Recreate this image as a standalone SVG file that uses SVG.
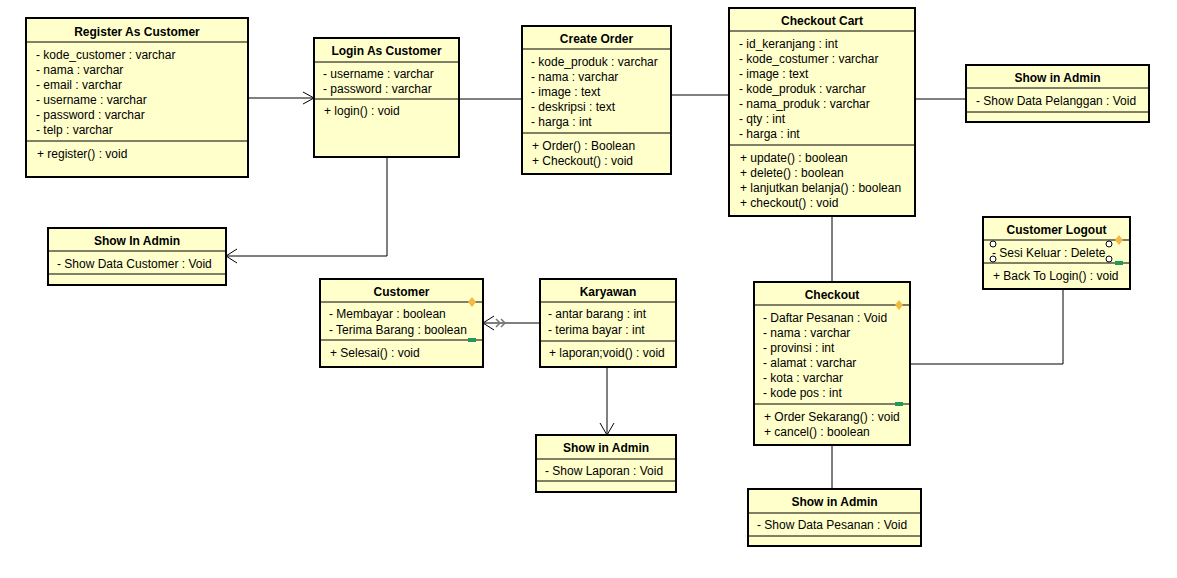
<svg xmlns="http://www.w3.org/2000/svg" width="1177" height="578" viewBox="0 0 1177 578">
<style>
.box{fill:#FFFFCC;stroke:#000;stroke-width:2}
.sep{stroke:#000;stroke-width:1}
.t{font-family:"Liberation Sans",Arial,sans-serif;font-size:12px;fill:#000}
.b{font-weight:bold;text-anchor:middle}
.ln{fill:none;stroke:#000;stroke-width:1}
.dia{fill:#F5B942}
.grn{fill:#1F9A5A}
.cir{fill:#fff;stroke:#000;stroke-width:1}
</style>
<rect width="1177" height="578" fill="#fff"/>
<g id="connectors">
<line class="ln" x1="248" y1="98" x2="314" y2="98"/>
<polyline class="ln" points="303,92 314,98 303,104"/>
<line class="ln" x1="459" y1="99" x2="522" y2="99"/>
<line class="ln" x1="671" y1="95" x2="729" y2="95"/>
<line class="ln" x1="915" y1="99" x2="966" y2="99"/>
<polyline class="ln" points="387,157 387,256 226,256"/>
<polyline class="ln" points="237,249 226,256 237,263"/>
<line class="ln" x1="540" y1="323" x2="483" y2="323"/>
<polyline class="ln" points="494,316 483,323 494,330"/>
<polyline fill="none" stroke="#777" stroke-width="1.5" points="496,319 500,323 496,327"/>
<polyline fill="none" stroke="#777" stroke-width="1.5" points="501,319 505,323 501,327"/>
<line class="ln" x1="607" y1="367" x2="607" y2="435" stroke="#444"/>
<polyline class="ln" points="600,423 607,435 614,423"/>
<line class="ln" x1="832" y1="216" x2="832" y2="282"/>
<line class="ln" x1="832" y1="445" x2="832" y2="489"/>
<polyline class="ln" points="910,364 1063,364 1063,289"/>
</g>
<g id="register">
<rect class="box" x="26" y="18" width="222" height="159"/>
<line class="sep" x1="26" y1="42" x2="248" y2="42"/>
<line class="sep" x1="26" y1="141" x2="248" y2="141"/>
<text class="t b" x="137" y="36">Register As Customer</text>
<text class="t" x="36" y="59">- kode_customer : varchar</text>
<text class="t" x="36" y="74">- nama : varchar</text>
<text class="t" x="36" y="89">- email : varchar</text>
<text class="t" x="36" y="104">- username : varchar</text>
<text class="t" x="36" y="119">- password : varchar</text>
<text class="t" x="36" y="134">- telp : varchar</text>
<text class="t" x="37" y="158">+ register() : void</text>
</g>
<g id="login">
<rect class="box" x="314" y="38" width="145" height="119"/>
<line class="sep" x1="314" y1="62" x2="459" y2="62"/>
<line class="sep" x1="314" y1="99" x2="459" y2="99"/>
<text class="t b" x="386.5" y="55">Login As Customer</text>
<text class="t" x="323" y="78">- username : varchar</text>
<text class="t" x="323" y="93">- password : varchar</text>
<text class="t" x="324" y="115">+ login() : void</text>
</g>
<g id="createorder">
<rect class="box" x="522" y="26" width="149" height="148"/>
<line class="sep" x1="522" y1="49" x2="671" y2="49"/>
<line class="sep" x1="522" y1="133" x2="671" y2="133"/>
<text class="t b" x="596.5" y="43">Create Order</text>
<text class="t" x="531" y="66">- kode_produk : varchar</text>
<text class="t" x="531" y="81">- nama : varchar</text>
<text class="t" x="531" y="96">- image : text</text>
<text class="t" x="531" y="111">- deskripsi : text</text>
<text class="t" x="531" y="126">- harga : int</text>
<text class="t" x="532" y="150">+ Order() : Boolean</text>
<text class="t" x="532" y="165">+ Checkout() : void</text>
</g>
<g id="checkoutcart">
<rect class="box" x="729" y="8" width="186" height="208"/>
<line class="sep" x1="729" y1="31" x2="915" y2="31"/>
<line class="sep" x1="729" y1="145" x2="915" y2="145"/>
<text class="t b" x="822" y="25">Checkout Cart</text>
<text class="t" x="739" y="48">- id_keranjang : int</text>
<text class="t" x="739" y="63">- kode_costumer : varchar</text>
<text class="t" x="739" y="78">- image : text</text>
<text class="t" x="739" y="93">- kode_produk : varchar</text>
<text class="t" x="739" y="108">- nama_produk : varchar</text>
<text class="t" x="739" y="123">- qty : int</text>
<text class="t" x="739" y="138">- harga : int</text>
<text class="t" x="740" y="162">+ update() : boolean</text>
<text class="t" x="740" y="177">+ delete() : boolean</text>
<text class="t" x="740" y="192">+ lanjutkan belanja() : boolean</text>
<text class="t" x="740" y="207">+ checkout() : void</text>
</g>
<g id="admin-pelanggan">
<rect class="box" x="966" y="65" width="183" height="57"/>
<line class="sep" x1="966" y1="88" x2="1149" y2="88"/>
<line class="sep" x1="966" y1="112" x2="1149" y2="112"/>
<text class="t b" x="1057.5" y="82">Show in Admin</text>
<text class="t" x="976" y="105">- Show Data Pelanggan : Void</text>
</g>
<g id="admin-customer">
<rect class="box" x="48" y="228" width="178" height="57"/>
<line class="sep" x1="48" y1="251" x2="226" y2="251"/>
<line class="sep" x1="48" y1="274" x2="226" y2="274"/>
<text class="t b" x="137" y="245">Show In Admin</text>
<text class="t" x="57" y="268">- Show Data Customer : Void</text>
</g>
<g id="customer">
<rect class="box" x="320" y="279" width="163" height="88"/>
<line class="sep" x1="320" y1="302" x2="483" y2="302"/>
<line class="sep" x1="320" y1="340" x2="483" y2="340"/>
<text class="t b" x="401.5" y="296">Customer</text>
<text class="t" x="329" y="318">- Membayar : boolean</text>
<text class="t" x="329" y="334">- Terima Barang : boolean</text>
<text class="t" x="330" y="357">+ Selesai() : void</text>
<polygon class="dia" points="472,297 476,302 472,307 468,302"/>
<rect class="grn" x="468" y="338" width="8" height="4"/>
</g>
<g id="karyawan">
<rect class="box" x="540" y="279" width="136" height="88"/>
<line class="sep" x1="540" y1="302" x2="676" y2="302"/>
<line class="sep" x1="540" y1="341" x2="676" y2="341"/>
<text class="t b" x="608" y="296">Karyawan</text>
<text class="t" x="548" y="318">- antar barang : int</text>
<text class="t" x="548" y="334">- terima bayar : int</text>
<text class="t" x="549" y="357">+ laporan;void() : void</text>
</g>
<g id="admin-laporan">
<rect class="box" x="536" y="435" width="140" height="57"/>
<line class="sep" x1="536" y1="459" x2="676" y2="459"/>
<line class="sep" x1="536" y1="481" x2="676" y2="481"/>
<text class="t b" x="606" y="452">Show in Admin</text>
<text class="t" x="545" y="475">- Show Laporan : Void</text>
</g>
<g id="checkout">
<rect class="box" x="754" y="282" width="156" height="163"/>
<line class="sep" x1="754" y1="305" x2="910" y2="305"/>
<line class="sep" x1="754" y1="404" x2="910" y2="404"/>
<text class="t b" x="832" y="299">Checkout</text>
<text class="t" x="763" y="322">- Daftar Pesanan : Void</text>
<text class="t" x="763" y="337">- nama : varchar</text>
<text class="t" x="763" y="352">- provinsi : int</text>
<text class="t" x="763" y="367">- alamat : varchar</text>
<text class="t" x="763" y="382">- kota : varchar</text>
<text class="t" x="763" y="397">- kode pos : int</text>
<text class="t" x="764" y="421">+ Order Sekarang() : void</text>
<text class="t" x="764" y="436">+ cancel() : boolean</text>
<polygon class="dia" points="899,300 903,305 899,310 895,305"/>
<rect class="grn" x="895" y="402" width="8" height="4"/>
</g>
<g id="admin-pesanan">
<rect class="box" x="748" y="489" width="173" height="57"/>
<line class="sep" x1="748" y1="513" x2="921" y2="513"/>
<line class="sep" x1="748" y1="536" x2="921" y2="536"/>
<text class="t b" x="834.5" y="506">Show in Admin</text>
<text class="t" x="757" y="529">- Show Data Pesanan : Void</text>
</g>
<g id="logout">
<rect class="box" x="983" y="217" width="147" height="72"/>
<line class="sep" x1="983" y1="240" x2="1130" y2="240"/>
<line class="sep" x1="983" y1="263" x2="1130" y2="263"/>
<text class="t b" x="1056.5" y="234">Customer Logout</text>
<text class="t" x="992" y="257">- Sesi Keluar : Delete</text>
<text class="t" x="993" y="280">+ Back To Login() : void</text>
<circle class="cir" cx="993" cy="244" r="3"/>
<circle class="cir" cx="993" cy="259" r="3"/>
<circle class="cir" cx="1109" cy="244" r="3"/>
<circle class="cir" cx="1109" cy="259" r="3"/>
<polygon class="dia" points="1119,235 1123,240 1119,245 1115,240"/>
<rect class="grn" x="1115" y="261" width="8" height="4"/>
</g>
</svg>
